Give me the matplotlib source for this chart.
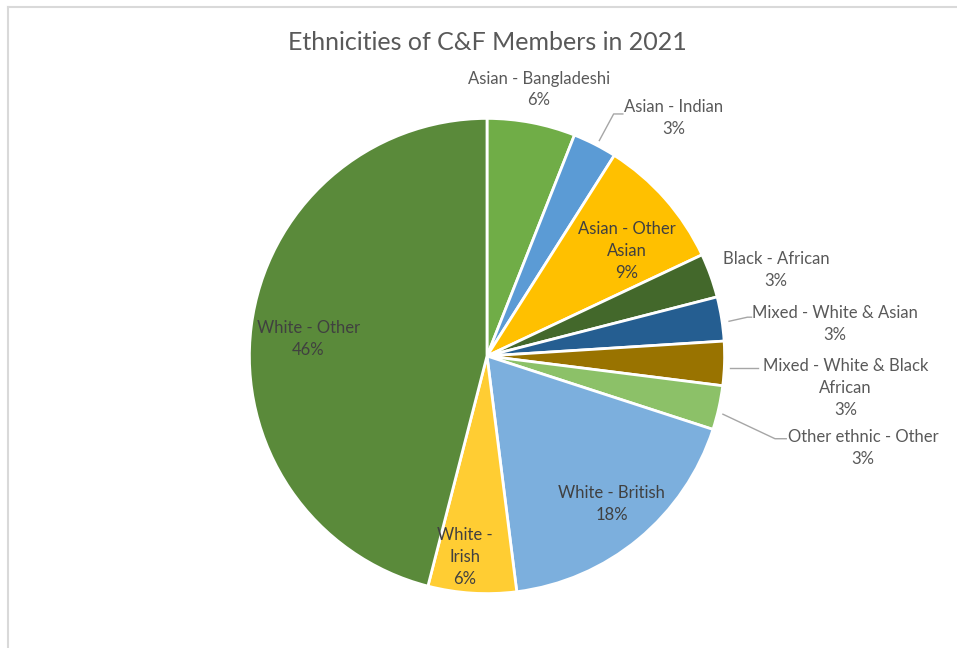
import matplotlib.pyplot as plt
from matplotlib.lines import Line2D

# data
categories = ['Asian - Bangladeshi', 'Asian - Indian', 'Asian - Other Asian', 'Black - African',
              'Mixed - White & Asian', 'Mixed - White & Black African', 'Other ethnic - Other',
              'White - British', 'White - Irish', 'White - Other']
shares = [6, 3, 9, 3, 3, 3, 3, 18, 6, 46]
label_text = ['Asian - Bangladeshi', 'Asian - Indian', 'Asian - Other\nAsian', 'Black - African',
              'Mixed - White & Asian', 'Mixed - White & Black\nAfrican', 'Other ethnic - Other',
              'White - British', 'White -\nIrish', 'White - Other']
colors = ['#70AD47', '#5B9BD5', '#FFC000', '#43682B', '#255E91', '#997300',
          '#8CC168', '#7CAFDD', '#FFCD33', '#5A8A3A']

plt.rcParams['font.family'] = ['Lato', 'DejaVu Sans']

W, H = 957, 648
fig = plt.figure(figsize=(W / 100, H / 100), dpi=100)

# pie centre (487, 356) px, radius ~235 px
cx, cy, r = 487, 356, 235
half = 300
ax = fig.add_axes([(cx - half) / W, (H - cy - half) / H, 2 * half / W, 2 * half / H])
lim = half / r
ax.set_xlim(-lim, lim)
ax.set_ylim(-lim, lim)
ax.set_aspect('equal')
ax.axis('off')

ax.pie(shares, colors=colors, startangle=90, counterclock=False, radius=0.99,
       wedgeprops=dict(edgecolor='white', linewidth=2))


def px(x, y):
    # pixel position -> data coords
    return (x - cx) / r, (cy - y) / r


# label centres in pixels, and whether inside a slice
label_pos = [(538, 95), (670, 123), (624, 253), (770, 272), (828, 325), (838, 387),
             (855, 446), (609, 501), (465, 553), (312, 339)]
inside = [False, False, True, False, False, False, False, True, True, True]

for txt, v, pos, ins in zip(label_text, shares, label_pos, inside):
    x, y = px(*pos)
    ax.text(x, y, f'{txt}\n{v}%', ha='center', va='center', fontsize=12,
            color='#404040' if ins else '#595959', linespacing=1.45)

# leader lines
leaders = [
    [(597, 145), (611, 119), (620, 119)],
    [(724, 322), (742, 318), (746, 318)],
    [(725, 368), (752, 368)],
    [(718, 413), (769, 437), (780, 437)],
]
for pts in leaders:
    xs, ys = zip(*[px(*p) for p in pts])
    ax.plot(xs, ys, color='#A6A6A6', lw=1)

fig.text(487 / W, 1 - 42 / H, 'Ethnicities of C&F Members in 2021', ha='center', va='center',
         fontsize=18, color='#595959')

# chart frame (top and left edges visible)
fig.add_artist(Line2D([8 / W, 1], [1 - 7 / H, 1 - 7 / H], color='#D9D9D9', lw=1.5))
fig.add_artist(Line2D([8 / W, 8 / W], [0, 1 - 7 / H], color='#D9D9D9', lw=1.5))

fig.savefig('out.png', dpi=100, facecolor='white')
